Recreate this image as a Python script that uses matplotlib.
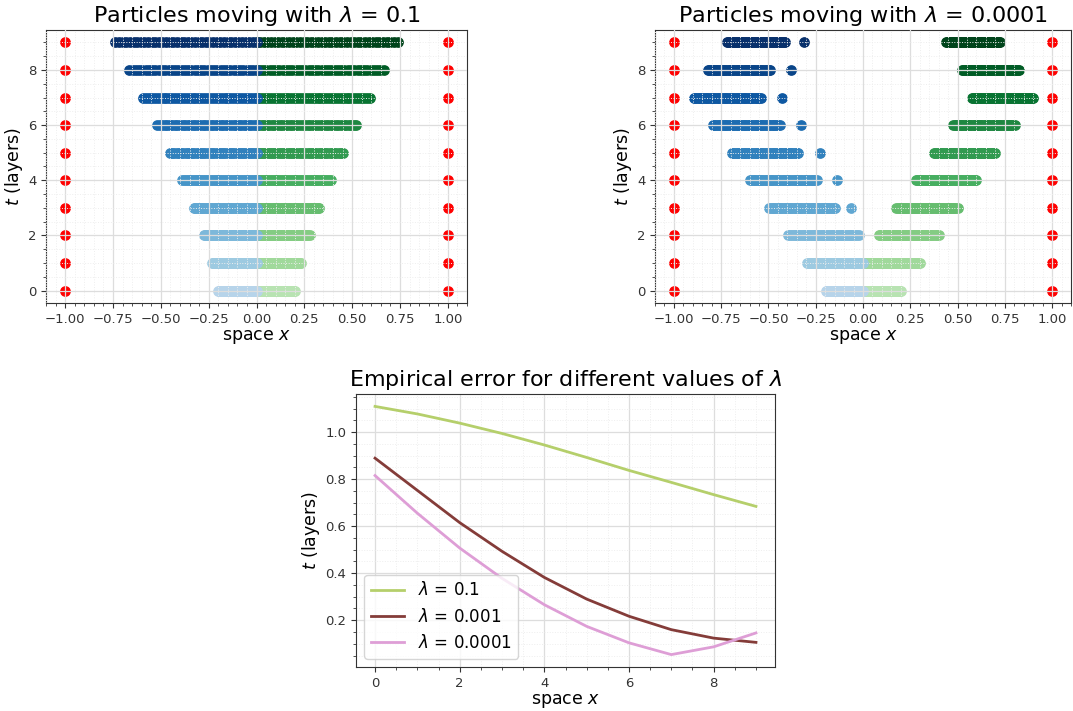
import numpy as np
import matplotlib
matplotlib.use("Agg")
import matplotlib.pyplot as plt

# layers (time steps)
layers = np.arange(10)

# lambda = 0.1: half-widths of the particle cloud per layer (blue left, green right)
left_01 = [-0.20, -0.234, -0.274, -0.328, -0.388, -0.452, -0.52, -0.592, -0.664, -0.737]
right_01 = [0.20, 0.234, 0.278, 0.328, 0.388, 0.452, 0.522, 0.592, 0.664, 0.737]

# lambda = 0.0001: blue cloud (start, end), lone blue particle, green cloud (start, end)
blue_seg_1e4 = [(-0.196, 0.0), (-0.295, 0.0), (-0.394, -0.023), (-0.495, -0.147),
                (-0.596, -0.245), (-0.695, -0.342), (-0.795, -0.441), (-0.896, -0.540),
                (-0.821, -0.490), (-0.721, -0.412)]
blue_lone_1e4 = [None, None, None, -0.062, -0.137, -0.229, -0.326, -0.426, -0.380, -0.312]
green_seg_1e4 = [(0.0, 0.20), (0.0, 0.30), (0.083, 0.40), (0.177, 0.50), (0.278, 0.60),
                 (0.375, 0.70), (0.476, 0.802), (0.575, 0.901), (0.523, 0.826), (0.439, 0.727)]

# empirical error curves
err_x = np.arange(10)
err_01 = [1.109, 1.077, 1.038, 0.994, 0.945, 0.892, 0.837, 0.786, 0.734, 0.684]
err_001 = [0.889, 0.752, 0.615, 0.493, 0.382, 0.290, 0.217, 0.160, 0.124, 0.106]
err_0001 = [0.815, 0.655, 0.507, 0.378, 0.266, 0.174, 0.104, 0.054, 0.087, 0.146]

n_pts = 40
blues = plt.cm.Blues(np.linspace(0.3, 1.0, 10))
greens = plt.cm.Greens(np.linspace(0.3, 1.0, 10))


def style_axes(ax):
    ax.set_axisbelow(False)
    ax.minorticks_on()
    ax.grid(which="major", color="#dddddd", linewidth=0.9, linestyle="-")
    ax.grid(which="minor", color="#eeeeee", linewidth=0.7, linestyle=":")
    for sp in ax.spines.values():
        sp.set_color("#333333")
    ax.tick_params(which="both", colors="#333333", labelsize=9.5)
    ax.set_xlabel("space $x$", fontsize=12.5, labelpad=2)
    ax.set_ylabel("$t$ (layers)", fontsize=12.5, labelpad=2)


def draw_walls(ax):
    for t in layers:
        ax.scatter([-1, 1], [t, t], s=45, color="red", zorder=2)


fig = plt.figure(figsize=(10.73, 7.11), dpi=100)
W, H = 1073, 711
ax1 = fig.add_axes([46 / W, 1 - 303 / H, 421 / W, 273 / H])
ax2 = fig.add_axes([655 / W, 1 - 303 / H, 416 / W, 273 / H])
ax3 = fig.add_axes([356 / W, 1 - 667 / H, 419 / W, 273 / H])

# lambda = 0.1
draw_walls(ax1)
for t in layers:
    xg = np.linspace(0, right_01[t], n_pts)
    xb = np.linspace(left_01[t], 0, n_pts)
    ax1.scatter(xg, np.full(n_pts, t), s=45, color=greens[t], zorder=2)
    ax1.scatter(xb, np.full(n_pts, t), s=45, color=blues[t], zorder=2)
ax1.set_title(r"Particles moving with $\lambda$ = 0.1", fontsize=16)
ax1.set_xticks([-1.0, -0.75, -0.5, -0.25, 0.0, 0.25, 0.5, 0.75, 1.0])
ax1.set_yticks([0, 2, 4, 6, 8])
style_axes(ax1)

# lambda = 0.0001
draw_walls(ax2)
for t in layers:
    g0, g1 = green_seg_1e4[t]
    b0, b1 = blue_seg_1e4[t]
    xg = np.linspace(g0, g1, n_pts)
    xb = np.linspace(b0, b1, n_pts)
    ax2.scatter(xg, np.full(n_pts, t), s=45, color=greens[t], zorder=2)
    ax2.scatter(xb, np.full(n_pts, t), s=45, color=blues[t], zorder=2)
    if blue_lone_1e4[t] is not None:
        ax2.scatter([blue_lone_1e4[t]], [t], s=45, color=blues[t], zorder=2)
ax2.set_title(r"Particles moving with $\lambda$ = 0.0001", fontsize=16)
ax2.set_xticks([-1.0, -0.75, -0.5, -0.25, 0.0, 0.25, 0.5, 0.75, 1.0])
ax2.set_yticks([0, 2, 4, 6, 8])
style_axes(ax2)

# empirical error
ax3.plot(err_x, err_01, color="#b5cf6b", lw=2, label=r"$\lambda$ = 0.1")
ax3.plot(err_x, err_001, color="#843c39", lw=2, label=r"$\lambda$ = 0.001")
ax3.plot(err_x, err_0001, color="#de9ed6", lw=2, label=r"$\lambda$ = 0.0001")
ax3.set_title(r"Empirical error for different values of $\lambda$", fontsize=16)
ax3.set_yticks([0.2, 0.4, 0.6, 0.8, 1.0])
style_axes(ax3)
ax3.set_axisbelow(True)
ax3.legend(loc="lower left", fontsize=12)

fig.savefig("out.png", dpi=100)
